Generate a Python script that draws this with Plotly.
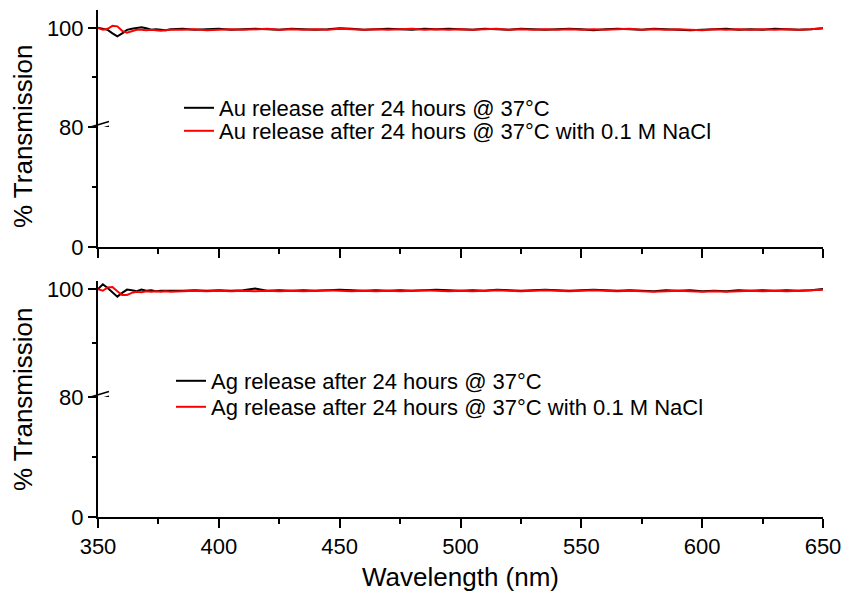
import plotly.graph_objects as go

# ---------------- data ----------------
wavelength = [350, 352, 354, 356, 358, 360, 362, 364, 366, 368, 370, 372, 374, 376, 378, 380,
              385, 390, 395, 400, 405, 410, 415, 420, 425, 430,
              435, 440, 445, 450, 455, 460, 465, 470, 475, 480,
              485, 490, 495, 500, 505, 510, 515, 520, 525, 530,
              535, 540, 545, 550, 555, 560, 565, 570, 575, 580,
              585, 590, 595, 600, 605, 610, 615, 620, 625, 630,
              635, 640, 645, 650]

au_plain = [100.0, 99.8, 99.6, 98.9, 98.3, 98.9, 99.6, 99.8, 100.0, 100.1, 99.9, 99.6, 99.7, 99.6, 99.5, 99.7,
            99.8, 99.6, 99.7, 99.8, 99.6, 99.7, 99.8, 99.7, 99.6, 99.8,
            99.7, 99.6, 99.7, 99.9, 99.8, 99.6, 99.7, 99.8, 99.7, 99.6,
            99.8, 99.7, 99.8, 99.7, 99.6, 99.8, 99.7, 99.6, 99.8, 99.7,
            99.6, 99.7, 99.8, 99.7, 99.5, 99.7, 99.8, 99.7, 99.6, 99.8,
            99.7, 99.6, 99.5, 99.6, 99.7, 99.8, 99.6, 99.7, 99.6, 99.8,
            99.7, 99.6, 99.7, 99.9]

au_nacl = [100.0, 99.6, 99.8, 100.4, 100.3, 99.4, 99.0, 99.3, 99.6, 99.6, 99.5, 99.6, 99.5, 99.4, 99.5, 99.6,
           99.6, 99.7, 99.5, 99.6, 99.7, 99.6, 99.7, 99.8, 99.6, 99.7,
           99.6, 99.7, 99.6, 99.8, 99.7, 99.6, 99.7, 99.6, 99.7, 99.8,
           99.6, 99.7, 99.6, 99.7, 99.6, 99.7, 99.8, 99.6, 99.7, 99.6,
           99.7, 99.6, 99.7, 99.6, 99.7, 99.6, 99.7, 99.8, 99.6, 99.7,
           99.6, 99.7, 99.6, 99.5, 99.7, 99.6, 99.7, 99.6, 99.7, 99.6,
           99.7, 99.6, 99.7, 99.9]

ag_plain = [100.0, 100.9, 100.2, 99.4, 98.6, 99.3, 99.9, 99.8, 99.6, 99.9, 99.7, 99.8, 99.6, 99.7, 99.7, 99.6,
            99.7, 99.8, 99.7, 99.8, 99.7, 99.8, 100.1, 99.7, 99.8, 99.7,
            99.8, 99.7, 99.8, 99.9, 99.8, 99.7, 99.8, 99.7, 99.8, 99.7,
            99.8, 99.9, 99.8, 99.7, 99.8, 99.7, 99.9, 99.8, 99.7, 99.8,
            99.9, 99.8, 99.7, 99.8, 99.9, 99.8, 99.7, 99.8, 99.7, 99.6,
            99.8, 99.7, 99.8, 99.6, 99.7, 99.6, 99.8, 99.7, 99.8, 99.7,
            99.8, 99.7, 99.8, 100.0]

ag_nacl = [100.0, 99.7, 100.3, 100.4, 99.6, 98.9, 98.9, 99.3, 99.5, 99.4, 99.6, 99.5, 99.6, 99.5, 99.6, 99.5,
           99.6, 99.7, 99.6, 99.7, 99.6, 99.7, 99.6, 99.7, 99.6, 99.7,
           99.6, 99.7, 99.8, 99.7, 99.6, 99.7, 99.6, 99.7, 99.6, 99.7,
           99.8, 99.7, 99.6, 99.7, 99.6, 99.7, 99.8, 99.7, 99.6, 99.7,
           99.8, 99.7, 99.6, 99.7, 99.8, 99.7, 99.6, 99.7, 99.6, 99.5,
           99.6, 99.7, 99.6, 99.5, 99.6, 99.5, 99.6, 99.7, 99.6, 99.7,
           99.6, 99.7, 99.8, 99.9]

names_top = ["Au release after 24 hours @ 37°C",
             "Au release after 24 hours @ 37°C with 0.1 M NaCl"]
names_bot = ["Ag release after 24 hours @ 37°C",
             "Ag release after 24 hours @ 37°C with 0.1 M NaCl"]

x_ticks = [350, 400, 450, 500, 550, 600, 650]
y_low_ticks = [0, 80]
y_high_ticks = [100]

# ---------------- figure ----------------
FONT = "Arial, Liberation Sans, sans-serif"
W, H = 843, 595
ML, MR, MT, MB = 98, 20, 10, 78
PH = H - MT - MB
PW = W - ML - MR


def py(pix):  # pixel row -> paper fraction
    return (H - MB - pix) / PH


def px(pix):  # pixel column -> paper fraction
    return (pix - ML) / PW


fig = go.Figure()

panels = [
    ("x", "y", "y2", ("legend", "legend2"), au_plain, au_nacl, names_top),
    ("x2", "y3", "y4", ("legend3", "legend4"), ag_plain, ag_nacl, names_bot),
]
for xa, ylow, yhigh, legs, s_plain, s_nacl, names in panels:
    for vals, colr, nm, leg in ((s_plain, "black", names[0], legs[0]),
                                (s_nacl, "#ff0000", names[1], legs[1])):
        # upper (80-100) part of the broken axis: visible data + legend entry
        fig.add_trace(go.Scatter(x=wavelength, y=vals, mode="lines", name=nm,
                                 line=dict(color=colr, width=2), xaxis=xa, yaxis=yhigh,
                                 legend=leg))
        # lower (0-80) part of the broken axis: same data, clipped by the axis range
        fig.add_trace(go.Scatter(x=wavelength, y=vals, mode="lines", name=nm,
                                 line=dict(color=colr, width=2), xaxis=xa, yaxis=ylow,
                                 showlegend=False, hoverinfo="skip"))

axis_common = dict(showline=True, linecolor="black", linewidth=2, ticks="outside",
                   tickcolor="black", tickwidth=2, showgrid=False, zeroline=False,
                   automargin=False,
                   tickfont=dict(family=FONT, size=22, color="black"))

xcommon = dict(axis_common, range=[350, 650], tickvals=x_ticks, ticklen=9,
               minor=dict(dtick=25, tick0=350, ticklen=5, ticks="outside",
                          tickcolor="black", tickwidth=2))

top_low = [py(247), py(127)]
top_high = [py(127), 1.0]
bot_low = [0.0, py(397)]
bot_high = [py(397), py(281)]

minor_low = dict(tickvals=[40], ticklen=4, ticks="outside", tickcolor="black", tickwidth=2)
minor_high = dict(tickvals=[90], ticklen=4, ticks="outside", tickcolor="black", tickwidth=2)


def legend_at(xpix, ypix):
    return dict(x=px(xpix), y=py(ypix), xanchor="left", yanchor="middle",
                bgcolor="rgba(0,0,0,0)", font=dict(family=FONT, size=22, color="black"))


fig.update_layout(
    width=W, height=H,
    margin=dict(l=ML, r=MR, t=MT, b=MB, autoexpand=False),
    paper_bgcolor="white", plot_bgcolor="white",
    font=dict(family=FONT, color="black"),
    xaxis=dict(xcommon, anchor="y", showticklabels=False),
    xaxis2=dict(xcommon, anchor="y3", showticklabels=True),
    yaxis=dict(axis_common, domain=top_low, range=[0, 80], anchor="x",
               tickvals=y_low_ticks, ticktext=[str(v) for v in y_low_ticks], ticklen=8,
               minor=minor_low),
    yaxis2=dict(axis_common, domain=top_high, range=[80, 103.6], anchor="x",
                tickvals=y_high_ticks, ticktext=[str(v) for v in y_high_ticks], ticklen=8,
                minor=minor_high),
    yaxis3=dict(axis_common, domain=bot_low, range=[0, 80], anchor="x2",
                tickvals=y_low_ticks, ticktext=[str(v) for v in y_low_ticks], ticklen=8,
                minor=minor_low),
    yaxis4=dict(axis_common, domain=bot_high, range=[80, 101.5], anchor="x2",
                tickvals=y_high_ticks, ticktext=[str(v) for v in y_high_ticks], ticklen=8,
                minor=minor_high),
    legend=legend_at(179, 108),
    legend2=legend_at(179, 131),
    legend3=legend_at(171, 381),
    legend4=legend_at(171, 407),
    showlegend=True,
)

# y-axis titles (one per panel) and x-axis title
for ypix in (136, 399):
    fig.add_annotation(text="% Transmission", xref="paper", yref="paper",
                       x=px(23), y=py(ypix), xanchor="center", yanchor="middle",
                       textangle=-90, showarrow=False,
                       font=dict(family=FONT, size=26, color="black"))
fig.add_annotation(text="Wavelength (nm)", xref="paper", yref="paper",
                   x=px(460), y=py(577), xanchor="center", yanchor="middle", showarrow=False,
                   font=dict(family=FONT, size=26, color="black"))

# axis-break marks at 80 (two parallel slanted strokes)
for yref in ("y2", "y4"):
    for c in (-2.4, 2.4):
        fig.add_shape(type="line", xref="paper", yref=yref,
                      xsizemode="pixel", xanchor=0, x0=-10, x1=11,
                      ysizemode="pixel", yanchor=80, y0=c - 3.2, y1=c + 3.2,
                      line=dict(color="black", width=1.6))

fig.write_html("out.html")
